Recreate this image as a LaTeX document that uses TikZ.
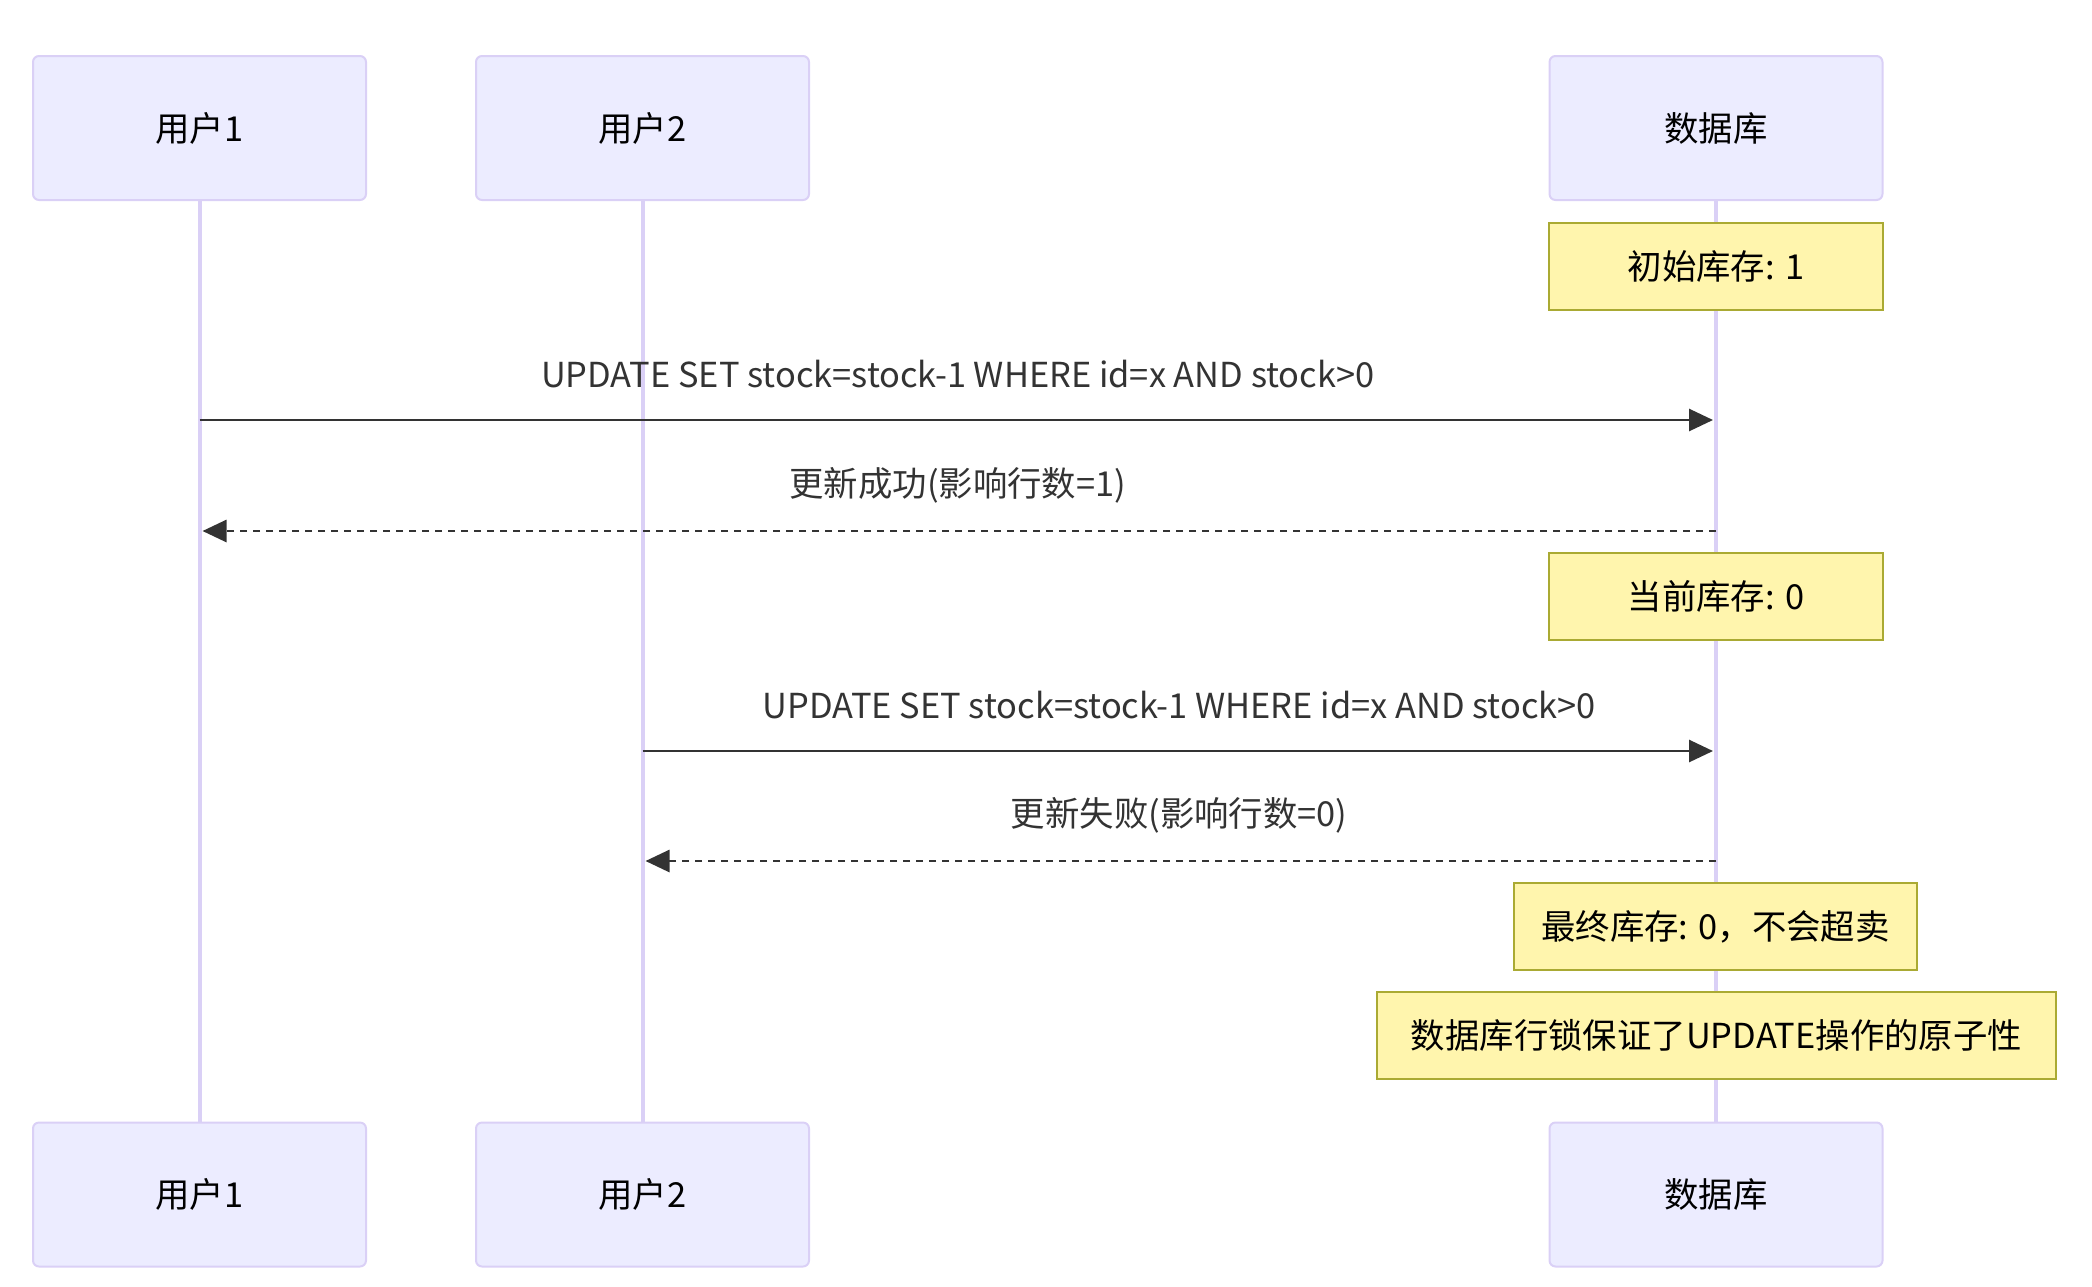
\documentclass[tikz,border=0pt]{standalone}
\usepackage{fontspec}
\setmainfont{Noto Sans CJK SC}
\usetikzlibrary{arrows.meta, backgrounds}
\definecolor{actorfill}{HTML}{ECECFF}
\definecolor{actorline}{HTML}{DAD0F6}
\definecolor{notefill}{HTML}{FFF5AD}
\definecolor{noteline}{HTML}{AAAA33}
\definecolor{ink}{HTML}{333333}
\newcommand{\txt}{\fontsize{17.2}{20}\selectfont}

\begin{document}
\begin{tikzpicture}[x=0.5pt, y=-0.5pt,
    actor/.style={draw=actorline, fill=actorfill, line width=1pt, rounded corners=3pt,
      minimum width=166.5pt, minimum height=72pt, font=\txt},
    note/.style={draw=noteline, fill=notefill, line width=1pt,
      minimum height=43.5pt, font=\txt},
    lifeline/.style={draw=actorline, line width=2pt},
    msg/.style={draw=ink, line width=1.4pt, shorten >=1.5pt,
      -{Triangle[length=12pt, width=11pt]}},
    reply/.style={msg, dash pattern=on 3.5pt off 3pt},
    msglabel/.style={text=ink, font=\txt, midway, yshift=23pt}]

  \useasboundingbox (0, 0) rectangle (2092, 1286);

  % participants, top and bottom
  \node[actor] (u1top) at (199.5, 128) {用户1};
  \node[actor] (u2top) at (642.5, 128) {用户2};
  \node[actor] (dbtop) at (1716, 128) {数据库};
  \node[actor] (u1bot) at (199.5, 1194.5) {用户1};
  \node[actor] (u2bot) at (642.5, 1194.5) {用户2};
  \node[actor] (dbbot) at (1716, 1194.5) {数据库};

  \begin{scope}[on background layer]
    \draw[lifeline] (u1top) -- (u1bot);
    \draw[lifeline] (u2top) -- (u2bot);
    \draw[lifeline] (dbtop) -- (dbbot);
  \end{scope}

  \node[note, minimum width=167pt] (n1) at (1716, 266.5) {初始库存: 1};

  \draw[msg] (u1top |- 0, 420) -- (dbtop |- 0, 420)
    node[msglabel] {UPDATE SET stock=stock-1 WHERE id=x AND stock>0};
  \draw[reply] (dbtop |- 0, 531) -- (u1top |- 0, 531)
    node[msglabel] {更新成功(影响行数=1)};

  \node[note, minimum width=167pt] (n2) at (1716, 596.5) {当前库存: 0};

  \draw[msg] (u2top |- 0, 751) -- (dbtop |- 0, 751)
    node[msglabel] {UPDATE SET stock=stock-1 WHERE id=x AND stock>0};
  \draw[reply] (dbtop |- 0, 861) -- (u2top |- 0, 861)
    node[msglabel] {更新失败(影响行数=0)};

  \node[note, minimum width=201.5pt] (n3) at (1715.5, 926.5) {最终库存: 0，不会超卖};
  \node[note, minimum width=339.5pt] (n4) at (1716.5, 1035.5) {数据库行锁保证了UPDATE操作的原子性};

\end{tikzpicture}
\end{document}
